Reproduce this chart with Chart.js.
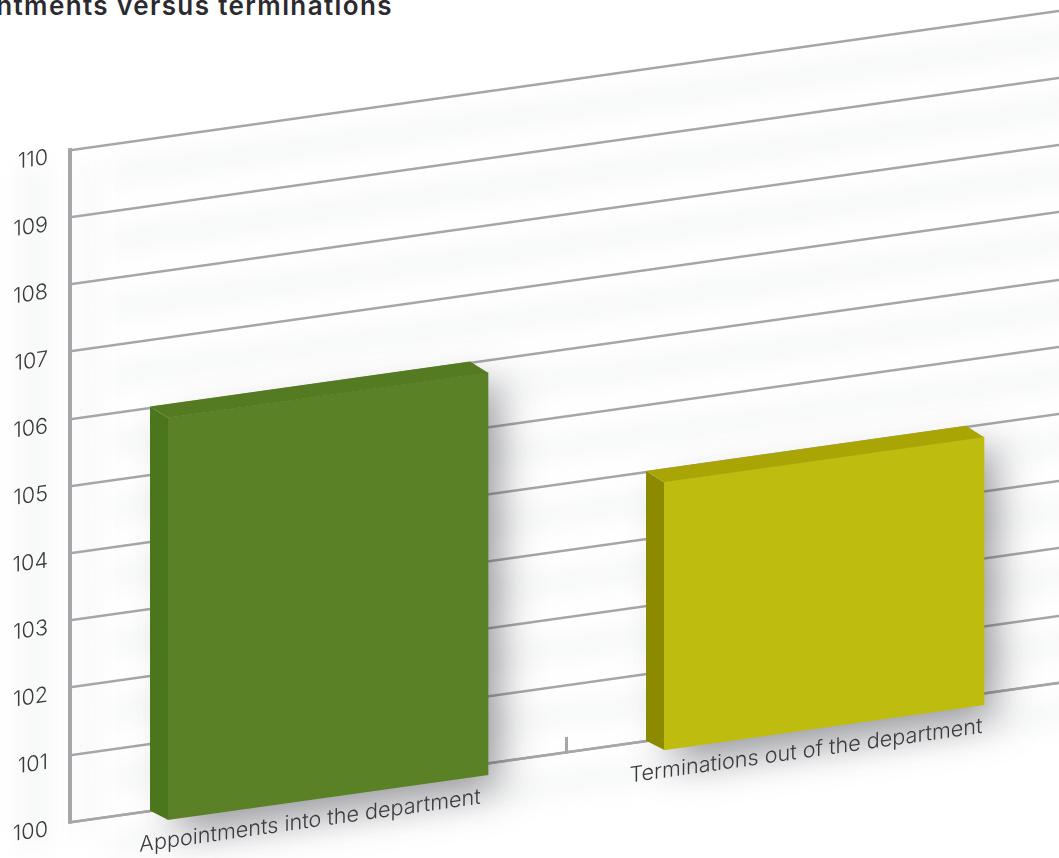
<!DOCTYPE html>
<html>
<head>
<meta charset="utf-8">
<title>Appointments versus terminations</title>
<script src="https://cdn.jsdelivr.net/npm/chart.js@4"></script>
<style>
html, body { margin: 0; background: #fff; width: 1059px; height: 858px; overflow: hidden; }
#wrap { position: relative; width: 1059px; height: 858px; overflow: hidden; }
#title { position: absolute; right: 666px; top: -10px; white-space: nowrap; font: 600 26px Inter, sans-serif; letter-spacing: 1.4px; color: #2b2a2e; }
canvas { position: absolute; left: 0; top: 0; }
</style>
</head>
<body>
<div id="wrap">
  <div id="title">Appointments versus terminations</div>
  <canvas id="chart" width="1070" height="900"></canvas>
</div>
<script>
const categories = ['Appointments into the department', 'Terminations out of the department'];
const values = [106, 104];
const frontColors = ['#5b8126', '#bfbc10'];
const sideColors = ['#4c761c', '#8c8a00'];
const topColors = ['#547a22', '#a8a505'];

const SLOPE = 0.141, PIVOT = 70;
const LINE = '#a6a6aa';
const FONT = { family: 'Inter', weight: '300', size: 21.6 };

// the whole plot lies on a sheared plane, only the 3d faces are added by hand
const shear = {
  id: 'shear',
  beforeDraw(chart) {
    const ctx = chart.ctx, y = chart.scales.y, a = chart.chartArea;
    ctx.save();
    ctx.transform(1, -SLOPE, 0, 1, 0, SLOPE * PIVOT);

    // soft shading under the grid lines
    ctx.save();
    ctx.filter = 'blur(12px)';
    ctx.fillStyle = '#f6f7f7';
    y.ticks.forEach(t => {
      ctx.fillRect(a.left + 40, y.getPixelForValue(t.value) + 18, a.width, 24);
    });
    ctx.fillRect(a.left + 8, a.top + 15, 18, a.height);
    ctx.fillRect(20, a.top + 10, 28, a.height + 10);
    ctx.restore();
  },
  beforeDatasetDraw(chart) {
    const ctx = chart.ctx;
    ctx.save();
    ctx.translate(10, 12.8);
    ctx.shadowColor = 'rgba(60,60,70,0.55)';
    ctx.shadowBlur = 40;
    ctx.shadowOffsetX = 10;
    ctx.shadowOffsetY = 12;
  },
  afterDatasetDraw(chart, args) {
    const ctx = chart.ctx;
    ctx.restore();
    args.meta.data.forEach((bar, i) => {
      const l = bar.x - bar.width / 2, r = bar.x + bar.width / 2;
      const bx0 = l - 8, bx1 = r - 8, fx0 = l + 10, fx1 = r + 10;
      ctx.fillStyle = sideColors[i];
      ctx.beginPath();
      ctx.moveTo(bx0, bar.y - 1);
      ctx.lineTo(fx0, bar.y + 12.8);
      ctx.lineTo(fx0, bar.base + 12.8);
      ctx.lineTo(bx0, bar.base + 1.3);
      ctx.closePath();
      ctx.fill();
      ctx.fillStyle = topColors[i];
      ctx.beginPath();
      ctx.moveTo(bx0, bar.y - 1);
      ctx.lineTo(bx1, bar.y - 1);
      ctx.lineTo(fx1, bar.y + 12.8);
      ctx.lineTo(fx0, bar.y + 12.8);
      ctx.closePath();
      ctx.fill();
    });
  },
  afterDraw(chart) {
    chart.ctx.restore();
  }
};

new Chart(document.getElementById('chart'), {
  type: 'bar',
  plugins: [shear],
  data: {
    labels: categories,
    datasets: [{
      data: values,
      base: 100,
      backgroundColor: frontColors,
      barThickness: 320,
      borderWidth: 0,
      clip: false
    }]
  },
  options: {
    responsive: false,
    animation: false,
    layout: { padding: { top: 150, right: 8 } },
    plugins: { legend: { display: false }, tooltip: { enabled: false } },
    scales: {
      x: {
        afterFit: s => { s.height = 78; },
        grid: { drawOnChartArea: false, tickLength: -15, tickWidth: 3, tickColor: LINE },
        border: { color: LINE, width: 2.5 },
        ticks: { font: FONT, color: '#3a3a3e', padding: 35, labelOffset: -8, maxRotation: 0, autoSkip: false }
      },
      y: {
        min: 100,
        max: 110,
        afterFit: s => { s.width = 70; },
        grid: { color: LINE, lineWidth: 2.5, drawTicks: false },
        border: { color: LINE, width: 4 },
        ticks: { stepSize: 1, font: FONT, color: '#3a3a3e', padding: 22, labelOffset: 4.5 }
      }
    }
  }
});
</script>
</body>
</html>
